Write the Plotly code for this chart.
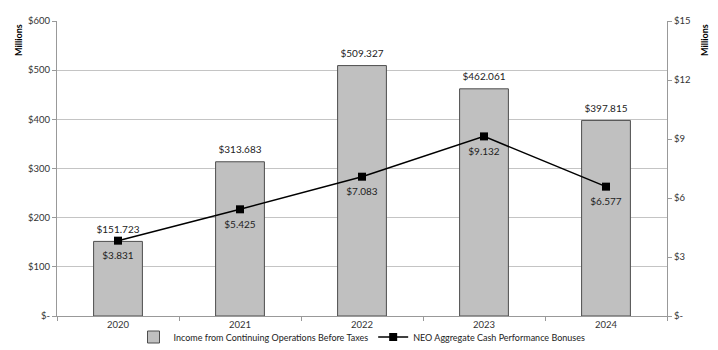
import plotly.graph_objects as go

years = ["2020", "2021", "2022", "2023", "2024"]
income = [151.723, 313.683, 509.327, 462.061, 397.815]
bonuses = [3.831, 5.425, 7.083, 9.132, 6.577]

left_ticks = [0, 100, 200, 300, 400, 500, 600]
left_labels = ["$-", "$100", "$200", "$300", "$400", "$500", "$600"]
right_ticks = [0, 3, 6, 9, 12, 15]
right_labels = ["$-", "$3", "$6", "$9", "$12", "$15"]

FONT = "Lato"
W, H = 718, 350
ML, MR, MT, MB = 57, 51, 21, 34
pw = W - ML - MR
ph = H - MT - MB
labelfont = dict(family=FONT, size=10, color="#222222")

fig = go.Figure()
fig.add_trace(go.Bar(
    x=years, y=income, name="Income from Continuing Operations Before Taxes",
    marker=dict(color="#C0C0C0", line=dict(color="#4d4d4d", width=1)),
    width=0.4,
))
fig.add_trace(go.Scatter(
    x=years, y=bonuses, name="NEO Aggregate Cash Performance Bonuses",
    yaxis="y2", mode="lines+markers",
    line=dict(color="black", width=1.5),
    marker=dict(symbol="square", size=8, color="black"),
))
# data labels
fig.add_trace(go.Scatter(
    x=years, y=income, mode="markers+text", showlegend=False, hoverinfo="skip",
    marker=dict(size=8, opacity=0),
    text=[f"${v:.3f}" for v in income], textposition="top center",
    textfont=labelfont, cliponaxis=False,
))
fig.add_trace(go.Scatter(
    x=years, y=bonuses, yaxis="y2", mode="markers+text", showlegend=False, hoverinfo="skip",
    marker=dict(size=16, opacity=0),
    text=[f"${v:.3f}" for v in bonuses], textposition="bottom center",
    textfont=labelfont, cliponaxis=False,
))

tickfont = dict(family=FONT, size=9.5, color="#333333")
fig.update_layout(
    width=W, height=H,
    margin=dict(l=ML, r=MR, t=MT, b=MB, autoexpand=False),
    plot_bgcolor="white", paper_bgcolor="white",
    font=dict(family=FONT, size=10, color="#333333"),
    showlegend=True,
    legend=dict(orientation="h", x=0.5, xanchor="center",
                yref="container", y=(H - 337) / H, yanchor="middle",
                font=dict(family=FONT, size=9, color="#222222"),
                itemwidth=30, tracegroupgap=0, bgcolor="rgba(0,0,0,0)"),
    xaxis=dict(type="category", showline=True, linecolor="#999999", linewidth=1,
               ticks="outside", tickson="boundaries", ticklen=4, tickcolor="#999999",
               showgrid=False, tickfont=tickfont),
    yaxis=dict(range=[0, 600], tickvals=left_ticks, ticktext=left_labels,
               showline=True, linecolor="#999999", linewidth=1,
               ticks="outside", ticklen=4, tickcolor="#999999",
               showgrid=True, gridcolor="#C4C4C4", gridwidth=1, zeroline=False,
               tickfont=tickfont),
    yaxis2=dict(range=[0, 15], tickvals=right_ticks, ticktext=right_labels,
                overlaying="y", side="right",
                showline=True, linecolor="#999999", linewidth=1,
                ticks="outside", ticklen=4, tickcolor="#999999",
                showgrid=False, zeroline=False,
                tickfont=tickfont),
    bargap=0.6,
)
fig.add_annotation(text="<b>Millions</b>", xref="paper", yref="paper",
                   x=(18 - ML) / pw, y=(H - 40 - MB) / ph, xanchor="center", yanchor="middle",
                   showarrow=False, textangle=-90, font=dict(family=FONT, size=9, color="black"))
fig.add_annotation(text="<b>Millions</b>", xref="paper", yref="paper",
                   x=(704 - ML) / pw, y=(H - 40 - MB) / ph, xanchor="center", yanchor="middle",
                   showarrow=False, textangle=-90, font=dict(family=FONT, size=9, color="black"))
fig.write_html("out.html")
